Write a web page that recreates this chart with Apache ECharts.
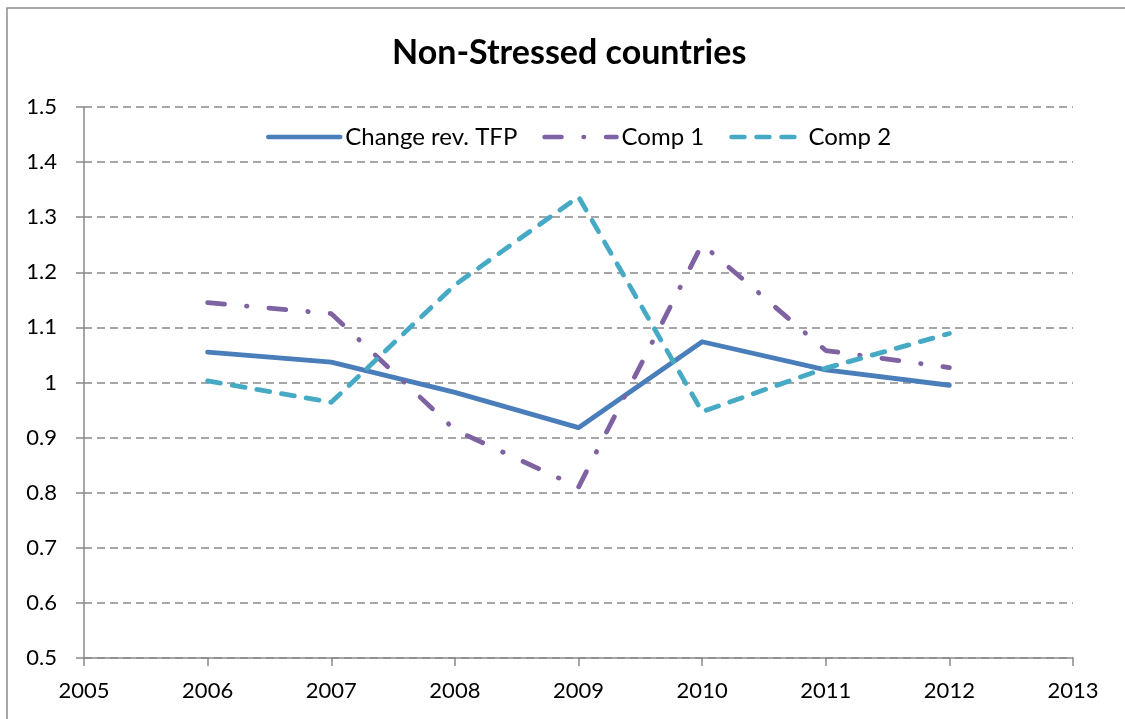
<!DOCTYPE html>
<html>
<head>
<meta charset="utf-8">
<script src="https://cdn.jsdelivr.net/npm/echarts@6/dist/echarts.min.js"></script>
<style>
html,body{margin:0;padding:0;background:#fff;}
#chart{width:1125px;height:719px;}
</style>
</head>
<body>
<div id="chart"></div>
<script>
const years = [2006, 2007, 2008, 2009, 2010, 2011, 2012];
const changeRevTFP = [1.055, 1.037, 0.982, 0.918, 1.074, 1.023, 0.995];
const comp1 = [1.145, 1.125, 0.914, 0.810, 1.251, 1.058, 1.027];
const comp2 = [1.003, 0.964, 1.177, 1.337, 0.947, 1.026, 1.089];
const seriesNames = ['Change rev. TFP', 'Comp 1', 'Comp 2'];

const zip = (vals) => years.map((y, i) => [y, vals[i]]);
const FONT = 'Lato';
const chart = echarts.init(document.getElementById('chart'));
chart.setOption({
  backgroundColor: '#fff',
  animation: false,
  textStyle: { fontFamily: FONT },
  title: {
    text: 'Non-Stressed countries',
    left: 387,
    top: 31,
    textStyle: { fontFamily: FONT, fontWeight: 'bold', fontSize: 34, color: '#000' }
  },
  graphic: [{
    type: 'rect',
    shape: { x: 7, y: 8, width: 1200, height: 800 },
    style: { fill: 'none', stroke: '#8c8c8c', lineWidth: 1.5 },
    silent: true
  }],
  legend: {
    left: 261,
    top: 120,
    itemWidth: 72,
    itemHeight: 14,
    itemGap: 25,
    itemStyle: { opacity: 0 },
    lineStyle: { width: 4.5, cap: 'round' },
    textStyle: { fontFamily: FONT, fontSize: 24, color: '#000' },
    data: seriesNames
  },
  grid: { left: 84, right: 52, top: 107, bottom: 61 },
  xAxis: {
    type: 'value',
    min: 2005,
    max: 2013,
    interval: 1,
    axisLine: { show: true, lineStyle: { color: '#898989', width: 1.5 } },
    axisTick: { show: true, length: 8, lineStyle: { color: '#898989', width: 1.5 } },
    axisLabel: { margin: 22, fontSize: 22, color: '#000', fontFamily: FONT, formatter: v => String(v) },
    splitLine: { show: false }
  },
  yAxis: {
    type: 'value',
    min: 0.5,
    max: 1.5,
    interval: 0.1,
    axisLine: { show: true, lineStyle: { color: '#898989', width: 1.5 } },
    axisTick: { show: true, length: 8, lineStyle: { color: '#898989', width: 1.5 } },
    axisLabel: { margin: 27, fontSize: 22, color: '#000', fontFamily: FONT,
      formatter: v => { const r = Math.round(v * 10) / 10; return r === 1 ? '1' : r.toFixed(1); } },
    splitLine: { show: true, lineStyle: { color: '#898989', width: 1.5, type: [8, 5] } }
  },
  series: [
    {
      name: seriesNames[0], type: 'line', data: zip(changeRevTFP),
      symbol: 'none', showSymbol: false,
      lineStyle: { color: '#4a7ebb', width: 4.8, cap: 'round', join: 'round' },
      itemStyle: { color: '#4a7ebb' }
    },
    {
      name: seriesNames[1], type: 'line', data: zip(comp1),
      symbol: 'none', showSymbol: false,
      lineStyle: { color: '#7f62a1', width: 4.8, type: [17, 22, 0.5, 22], cap: 'round', join: 'round' },
      itemStyle: { color: '#7f62a1' }
    },
    {
      name: seriesNames[2], type: 'line', data: zip(comp2),
      symbol: 'none', showSymbol: false,
      lineStyle: { color: '#46aac5', width: 4.8, type: [13, 12], cap: 'round', join: 'round' },
      itemStyle: { color: '#46aac5' }
    }
  ]
});
</script>
</body>
</html>
